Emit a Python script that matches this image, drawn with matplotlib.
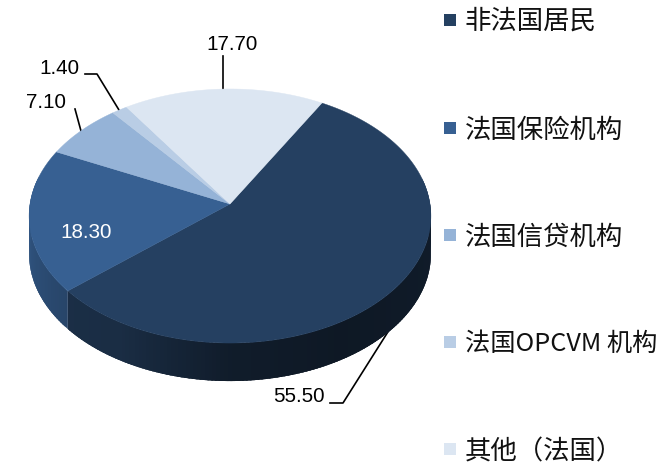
#!/usr/bin/env python

import numpy as np
import matplotlib
matplotlib.use('Agg')
import matplotlib.pyplot as plt

# slice data, clockwise from the start angle
legend_labels = ['非法国居民', '法国保险机构', '法国信贷机构', '法国OPCVM 机构', '其他（法国）']
values = [55.50, 18.30, 7.10, 1.40, 17.70]
value_labels = ['55.50', '18.30', '7.10', '1.40', '17.70']
colors = ['#254061', '#376092', '#95b3d7', '#b9cde5', '#dce6f2']

start_angle = 60.2
cx, cy = 230, 204     # pie centre on the page
rx, ry = 200, 125.9
persp = 0.0946        # foreshortening of the far side
depth = 38


def rim(theta):
    '''pixel position of a rim point, theta in degrees'''
    t = np.radians(theta)
    d = 1 + persp * np.sin(t)
    return cx + rx * np.cos(t) / d, cy - ry * np.sin(t) / d


def shade(color, theta):
    '''darken the side wall, lightest at the left, darkest front right'''
    f = np.interp((theta + 360) % 360, [150, 185, 220, 240, 270, 300, 360, 390],
                  [0.98, 0.88, 0.72, 0.70, 0.44, 0.38, 0.44, 0.44])
    return tuple(f * c for c in matplotlib.colors.to_rgb(color))


fig = plt.figure(figsize=(6.67, 4.66), dpi=100)
ax = fig.add_axes([0, 0, 1, 1])
ax.set_xlim(0, 667)
ax.set_ylim(466, 0)
ax.axis('off')

# slice boundaries from the values
sweep = 360 * np.array(values) / sum(values)
ends = start_angle - np.cumsum(sweep)
starts = ends + sweep

# side wall first, as thin strips that overlap so no seams show
for s, e, col in zip(starts, ends, colors):
    n = max(int(s - e), 2)
    th = np.linspace(s, e, n + 1)
    for t0, t1 in zip(th[:-1], th[1:]):
        if np.sin(np.radians((t0 + t1) / 2)) > 0.2:
            continue
        arc = np.linspace(t0, e if t1 == th[-1] else t1 - 1.5, 6)
        arc = arc[arc >= e]
        x, y = rim(arc)
        c = shade(col, (t0 + t1) / 2)
        ax.fill(np.r_[x, x[::-1]], np.r_[y, y[::-1] + depth],
                color=c, lw=0, zorder=1)

# top surface
for s, e, col in zip(starts, ends, colors):
    th = np.linspace(s, e, max(int(s - e) * 2, 4))
    x, y = rim(th)
    ax.fill(np.r_[cx, x], np.r_[cy, y], color=col, lw=0.3, zorder=2)

# leader lines, kept behind the pie
leaders = [([330, 343, 391], [403, 403, 327]),
           ([85, 97, 119], [74, 74, 110]),
           ([75, 81], [109, 131]),
           ([223, 223], [56, 90])]
for lx, ly in leaders:
    ax.plot(lx, ly, color='black', lw=1.2, zorder=0.5)

# value labels
label_pos = [(299, 397), (86, 232), (46, 102), (59.5, 69), (232, 45)]
label_col = ['black', 'white', 'black', 'black', 'black']
for txt, (x, y), c in zip(value_labels, label_pos, label_col):
    ax.text(x, y, txt, color=c, fontsize=14.9, ha='center', va='center',
            family=['Liberation Sans'], zorder=4)

# legend
legend_y = [20, 128, 235, 342, 449]
text_y = [21, 130, 237, 344, 452]
text_size = [19, 19, 19, 18.2, 19]
for lab, col, y, ty, sz in zip(legend_labels, colors, legend_y, text_y, text_size):
    ax.fill([444, 456, 456, 444], [y - 6, y - 6, y + 6, y + 6], color=col, lw=0)
    ax.text(465, ty, lab, fontsize=sz, ha='left', va='center',
            family=['Noto Sans CJK SC', 'DejaVu Sans'], color='#111111')

fig.savefig('out.png', dpi=100)
